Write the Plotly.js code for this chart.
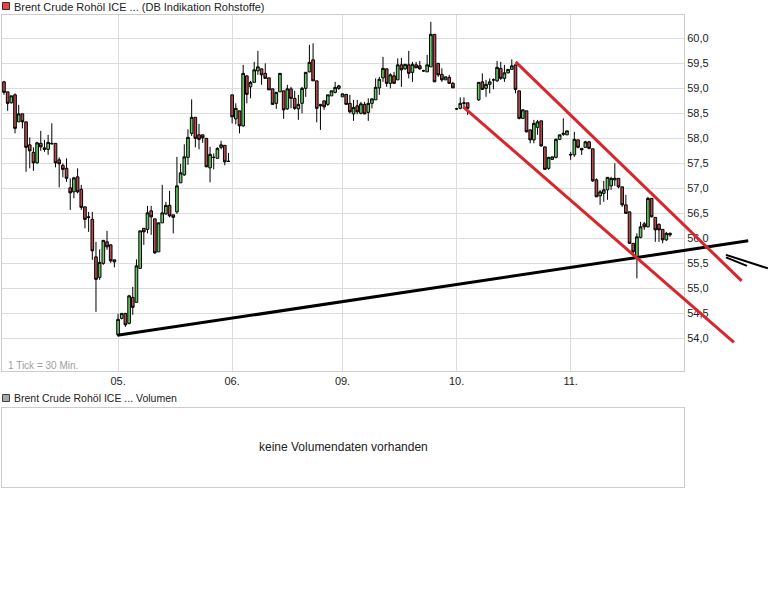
<!DOCTYPE html>
<html><head><meta charset="utf-8">
<script src="https://cdn.plot.ly/plotly-3.0.1.min.js"></script>
<style>html,body{margin:0;padding:0;background:#fff}#chart{width:768px;height:614px}</style>
</head><body><div id="chart"></div>
<script>
// ---- data (30-minute candles, x = candle slot number) ----
const missingSlots = [127, 128];
const openVals = [
59.13,58.93,58.71,58.87,58.33,58.49,58.33,57.87,57.72,57.51,
57.90,57.81,57.78,57.90,57.90,57.57,57.46,57.40,57.01,56.93,
57.23,56.98,56.63,56.43,56.38,55.63,55.22,55.50,55.93,55.87,
55.57,
54.07,54.40,54.50,54.30,54.82,54.72,55.40,56.20,56.18,56.55,
56.39,55.73,56.31,56.49,56.66,56.47,56.53,57.11,57.27,57.62,
58.10,58.42,58.07,58.07,58.00,57.41,57.62,57.60,57.82,57.86,
57.54,58.87,58.39,58.55,58.25,59.25,59.03,59.12,59.35,59.39,
59.30,59.21,58.99,58.70,58.93,58.95,58.59,58.99,58.80,58.59,
58.70,59.00,59.33,59.57,59.15,58.68,58.75,58.68,58.85,58.92,
59.00,58.83,58.88,58.70,58.49,58.65,58.50,58.68,58.52,58.70,
58.77,59.01,59.21,59.39,59.10,59.25,59.17,59.47,59.39,59.47,
59.32,59.47,59.45,59.35,59.33,59.43,60.08,59.50,59.28,59.17,
59.22,59.10,58.59,58.60,58.70,58.71,
58.77,59.13,59.00,59.08,59.17,59.15,59.40,59.20,59.31,59.38,
59.47,58.95,58.40,58.55,58.17,57.97,58.22,58.35,57.83,57.40,
57.58,57.62,57.98,58.08,58.07,57.68,57.67,57.97,57.80,57.82,
57.93,57.79,57.17,56.85,56.90,56.97,57.05,57.17,57.20,57.03,
56.67,56.53,55.90,55.63,56.02,56.29,56.23,56.80,56.42,56.28,
56.18,55.97,56.10];
const highVals = [
59.15,58.93,58.85,58.90,58.67,58.49,58.33,58.02,57.82,57.93,
58.15,57.97,58.07,58.30,57.90,57.62,57.50,57.60,57.20,57.23,
57.40,57.07,56.63,56.53,56.53,55.93,55.78,55.96,56.15,55.88,
55.57,
54.49,54.50,54.50,54.87,55.03,55.58,56.15,56.20,56.65,56.65,
56.39,56.31,57.07,56.73,56.95,56.47,57.63,57.49,57.88,58.18,
58.78,58.42,58.29,58.07,58.00,57.83,57.70,57.82,57.95,57.86,
57.71,58.87,58.70,58.55,59.47,59.25,59.15,59.53,59.75,59.39,
59.50,59.21,58.99,58.92,59.30,58.95,59.07,59.03,58.95,58.87,
59.03,59.32,59.87,59.90,59.15,58.68,58.75,58.87,58.95,59.13,
59.07,58.89,58.88,58.87,58.77,58.77,58.73,58.73,58.80,58.79,
59.20,59.23,59.63,59.40,59.30,59.33,59.60,59.61,59.48,59.75,
59.53,59.53,59.55,59.37,59.67,60.33,60.08,59.50,59.40,59.23,
59.27,59.13,58.61,58.82,58.82,58.71,
59.12,59.30,59.17,59.20,59.20,59.55,59.53,59.47,59.38,59.58,
59.47,58.95,58.57,58.55,58.17,58.37,58.37,58.35,57.83,57.63,
57.63,58.00,58.07,58.40,58.15,57.73,58.13,57.97,57.80,57.95,
57.95,57.79,57.20,56.97,57.15,57.22,57.23,57.50,57.20,57.03,
56.87,56.53,55.90,56.10,56.33,56.33,56.83,56.80,56.42,56.30,
56.18,56.13,56.12];
const lowVals = [
58.87,58.55,58.70,58.10,58.33,58.20,57.33,57.40,57.35,57.49,
57.75,57.73,57.67,57.90,57.42,57.02,57.22,57.13,56.57,56.80,
56.90,56.57,56.20,56.13,55.57,54.53,55.17,55.47,55.77,55.51,
55.42,
54.05,54.38,54.23,54.28,54.47,54.72,55.40,55.87,56.10,56.07,
55.69,55.73,56.31,56.47,56.42,56.10,56.49,57.11,57.25,57.47,
58.05,57.82,57.78,57.91,57.43,57.12,57.38,57.60,57.78,57.46,
57.53,58.30,58.28,58.10,58.23,58.70,58.80,59.12,59.27,59.07,
59.20,58.97,58.67,58.59,58.93,58.39,58.57,58.60,58.57,58.37,
58.50,58.83,59.32,59.15,58.32,58.17,58.57,58.65,58.85,58.90,
58.97,58.83,58.68,58.50,58.35,58.48,58.48,58.48,58.35,58.60,
58.77,58.87,59.13,59.03,59.00,59.10,59.17,59.03,59.37,59.20,
59.13,59.41,59.37,59.33,59.33,59.43,59.13,59.23,59.13,59.17,
59.09,59.01,58.57,58.58,58.60,58.47,
58.75,58.97,58.83,58.90,58.98,59.13,59.17,59.13,59.30,59.38,
58.90,58.38,58.40,58.12,57.90,57.90,58.07,57.83,57.38,57.37,
57.57,57.60,57.97,58.05,58.07,57.57,57.63,57.80,57.67,57.82,
57.78,57.13,56.83,56.67,56.73,56.77,56.97,57.05,57.00,56.63,
56.50,55.89,55.70,55.20,56.00,56.17,56.22,56.42,55.93,55.93,
55.90,55.95,56.03];
const closeVals = [
58.92,58.70,58.85,58.20,58.49,58.33,57.82,57.75,57.51,57.91,
57.83,57.78,57.92,57.89,57.51,57.49,57.38,57.20,56.91,57.21,
56.93,56.62,56.38,56.42,55.75,55.18,55.52,55.96,55.83,55.55,
55.53,
54.38,54.50,54.27,54.85,54.62,55.45,56.15,56.13,56.51,56.43,
55.71,56.31,56.51,56.66,56.45,56.42,57.05,57.31,57.63,58.02,
58.42,58.00,57.98,58.01,57.43,57.68,57.62,57.80,57.87,57.53,
57.54,58.43,58.60,58.25,59.30,58.88,59.12,59.37,59.43,59.27,
59.20,58.97,58.68,58.92,59.30,58.57,58.99,58.80,58.60,58.68,
59.00,59.32,59.52,59.15,58.60,58.65,58.63,58.87,58.95,59.02,
59.05,58.89,58.68,58.53,58.62,58.53,58.69,58.49,58.70,58.79,
59.02,59.18,59.40,59.10,59.27,59.10,59.47,59.37,59.48,59.30,
59.48,59.41,59.39,59.35,59.47,60.08,59.13,59.27,59.17,59.23,
59.10,59.01,58.59,58.70,58.71,58.60,
59.12,58.98,59.08,59.13,59.17,59.42,59.20,59.31,59.38,59.45,
58.98,58.40,58.57,58.13,57.97,58.30,58.33,57.85,57.38,57.62,
57.63,57.98,58.07,58.10,58.15,57.67,57.98,57.82,57.77,57.93,
57.80,57.15,56.83,56.93,56.97,57.22,57.20,57.20,57.03,56.67,
56.50,55.90,55.73,56.03,56.23,56.23,56.80,56.43,56.17,56.17,
55.97,56.10,56.07];
const dayTickPos = [31, 62, 92, 123, 154];
const dayTickText = ['05.', '06.', '09.', '10.', '11.'];
const priceTickVals = [54.0, 54.5, 55.0, 55.5, 56.0, 56.5, 57.0, 57.5, 58.0, 58.5, 59.0, 59.5, 60.0];
// trend lines: [slot, price] endpoints
const supportX = [30.8, 202.25];
const supportY = [54.06, 55.95];
const channelUpperX = [139.05, 200.46];
const channelUpperY = [59.53, 55.15];
const channelLowerX = [124.8, 198.37];
const channelLowerY = [58.63, 53.92];
const arrowAX = [196.2, 207.6];
const arrowAY = [55.67, 55.40];
const arrowBX = [196.2, 201.9];
const arrowBY = [55.62, 55.45];

// ---- build slots ----
const slots = [];
for (let s = 0; slots.length < openVals.length; s++) {
  if (missingSlots.indexOf(s) === -1) slots.push(s);
}

// ---- geometry ----
const plotLeft = 2, plotRight = 684, plotTop = 15, mainBottom = 371, volTop = 408, volBottom = 487;
const paperH = volBottom - plotTop;
const xRange = [-0.54, 184.8];
const yRange = [53.347, 60.467];
const pxX = p => (p - plotLeft) / (plotRight - plotLeft);
const pxY = p => (volBottom - p) / paperH;
const slotX = s => (s - xRange[0]) / (xRange[1] - xRange[0]);

function trend(xs, ys, color, width) {
  return {type: 'line', xref: 'paper', yref: 'y', x0: slotX(xs[0]), y0: ys[0], x1: slotX(xs[1]), y1: ys[1],
          line: {color: color, width: width}, layer: 'above'};
}

const FONT = '"Liberation Sans", Arial, sans-serif';

const traces = [
  {type: 'candlestick', x: slots, open: openVals, high: highVals, low: lowVals, close: closeVals,
   xaxis: 'x', yaxis: 'y', whiskerwidth: 0, hoverinfo: 'skip', showlegend: false,
   increasing: {line: {color: '#000000', width: 1}, fillcolor: '#68c868'},
   decreasing: {line: {color: '#000000', width: 1}, fillcolor: '#b44a4a'}},
  {type: 'scatter', x: [], y: [], xaxis: 'x2', yaxis: 'y2', showlegend: false, hoverinfo: 'skip'}
];

const axisCommon = {zeroline: false, showline: true, mirror: true, linecolor: '#cccccc', linewidth: 1, ticks: '', fixedrange: true};

const layout = {
  width: 768, height: 614,
  margin: {l: plotLeft, r: 768 - plotRight, t: plotTop, b: 614 - volBottom, pad: 0},
  paper_bgcolor: '#ffffff', plot_bgcolor: '#ffffff',
  font: {family: FONT, size: 11, color: '#222222'},
  separators: ',.',
  showlegend: false,
  boxgap: 0.2, boxgroupgap: 0.1,
  xaxis: Object.assign({}, axisCommon, {domain: [0, 1], anchor: 'y', range: xRange,
    tickmode: 'array', tickvals: dayTickPos, ticktext: dayTickText,
    showgrid: true, gridcolor: '#dcdcdc', gridwidth: 1,
    rangeslider: {visible: false}, tickfont: {family: FONT, size: 11, color: '#222'}}),
  yaxis: Object.assign({}, axisCommon, {domain: [(volBottom - mainBottom) / paperH, 1], anchor: 'x',
    range: yRange, side: 'right', tickmode: 'array', tickvals: priceTickVals, tickformat: '.1f',
    showgrid: true, gridcolor: '#dcdcdc', gridwidth: 1,
    tickfont: {family: FONT, size: 11, color: '#222'}}),
  xaxis2: Object.assign({}, axisCommon, {domain: [0, 1], anchor: 'y2', range: [0, 1], showgrid: false, showticklabels: false}),
  yaxis2: Object.assign({}, axisCommon, {domain: [0, (volBottom - volTop) / paperH], anchor: 'x2', range: [0, 1], showgrid: false, showticklabels: false}),
  shapes: [
    trend(supportX, supportY, '#000000', 3),
    trend(channelUpperX, channelUpperY, '#d9262c', 3),
    trend(channelLowerX, channelLowerY, '#d9262c', 3),
    trend(arrowAX, arrowAY, '#000000', 2),
    trend(arrowBX, arrowBY, '#000000', 2),
    {type: 'rect', xref: 'paper', yref: 'paper', x0: pxX(2.5), x1: pxX(9.5), y0: pxY(9.5), y1: pxY(2.5),
     fillcolor: '#e04848', line: {color: '#5a2020', width: 1}},
    {type: 'rect', xref: 'paper', yref: 'paper', x0: pxX(2.5), x1: pxX(9.5), y0: pxY(401.5), y1: pxY(394.5),
     fillcolor: '#a8a8a8', line: {color: '#404040', width: 1}}
  ],
  annotations: [
    {xref: 'paper', yref: 'paper', x: pxX(12), y: pxY(7), xanchor: 'left', yanchor: 'middle', showarrow: false,
     text: 'Brent Crude Rohöl ICE ... (DB Indikation Rohstoffe)', font: {family: FONT, size: 11, color: '#222'}},
    {xref: 'paper', yref: 'paper', x: pxX(12), y: pxY(398), xanchor: 'left', yanchor: 'middle', showarrow: false,
     text: 'Brent Crude Rohöl ICE ... Volumen', font: {family: FONT, size: 10.5, color: '#222'}},
    {xref: 'paper', yref: 'paper', x: pxX(6), y: pxY(365), xanchor: 'left', yanchor: 'middle', showarrow: false,
     text: '1 Tick = 30 Min.', font: {family: FONT, size: 10, color: '#a0a0a0'}},
    {xref: 'paper', yref: 'paper', x: pxX(343), y: pxY(447), xanchor: 'center', yanchor: 'middle', showarrow: false,
     text: 'keine Volumendaten vorhanden', font: {family: FONT, size: 12, color: '#222'}}
  ]
};

Plotly.newPlot('chart', traces, layout, {displayModeBar: false, staticPlot: true});
</script>
</body></html>
